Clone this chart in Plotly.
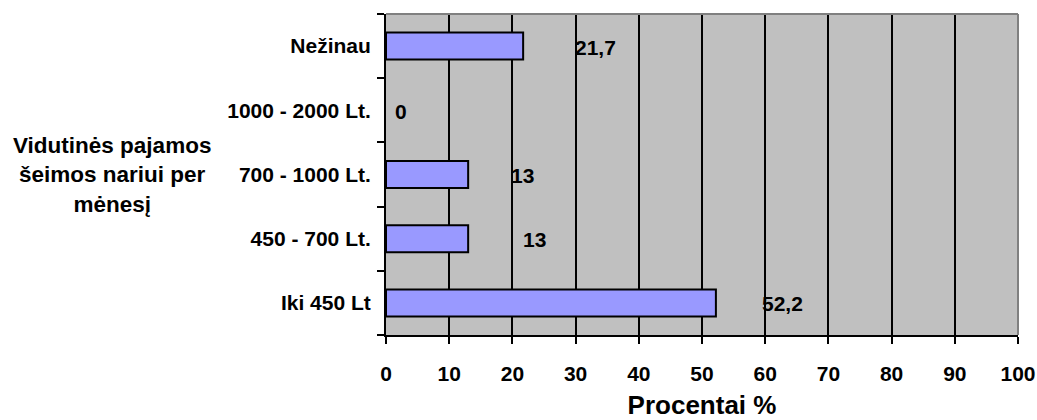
import plotly.graph_objects as go

# ---- data (bottom to top, as drawn) ----
categories = ["Iki 450 Lt", "450 - 700 Lt.", "700 - 1000 Lt.", "1000 - 2000 Lt.", "Nežinau"]
values = [52.2, 13, 13, 0, 21.7]
x_ticks = list(range(0, 101, 10))

y_title = "Vidutinės pajamos<br>šeimos nariui per<br>mėnesį"
x_title = "Procentai %"

# per-label pixel nudges, the original placement is a bit irregular
label_xshift = [44, 53, 41, 7, 50]

FONT = "Arial, Liberation Sans, sans-serif"

fig = go.Figure()

fig.add_trace(go.Bar(
    x=values, y=categories, orientation="h",
    marker=dict(color="#9999FF",
                # no outline on the empty bar, it would leave a stub at 0
                line=dict(color="black", width=[2 if v > 0 else 0 for v in values])),
    showlegend=False, hoverinfo="x+y",
))

# value labels, decimal comma
for cat, val, dx in zip(categories, values, label_xshift):
    fig.add_annotation(
        x=val, y=cat, xref="x", yref="y",
        text=f"{val:g}".replace(".", ","),
        showarrow=False, xanchor="left", yanchor="middle",
        xshift=dx, yshift=-1,
        font=dict(family=FONT, size=21, color="black", weight="bold"),
    )

# horizontal axis-like title on the left
fig.add_annotation(
    x=0, y="700 - 1000 Lt.", xref="paper", yref="y",
    text=y_title, showarrow=False, align="center",
    xanchor="center", yanchor="middle", xshift=-274,
    font=dict(family=FONT, size=22.5, color="black", weight="bold"),
)

# grey top/right frame of the plot area
fig.add_shape(type="line", xref="paper", yref="paper", x0=0, x1=1, y0=1, y1=1,
              line=dict(color="#808080", width=2))
fig.add_shape(type="line", xref="paper", yref="paper", x0=1, x1=1, y0=0, y1=1,
              line=dict(color="#808080", width=2))

fig.update_layout(
    width=1037, height=420,
    margin=dict(l=386, r=19, t=14, b=85),
    paper_bgcolor="white", plot_bgcolor="#C0C0C0",
    bargap=0.58,
    font=dict(family=FONT, size=21, color="black", weight="bold"),
    xaxis=dict(
        range=[0, 100], tickvals=x_ticks,
        showgrid=True, gridcolor="black", gridwidth=2, zeroline=False,
        showline=True, linecolor="black", linewidth=2,
        ticks="outside", ticklen=7, tickwidth=2, tickcolor="black",
        ticklabelstandoff=12,
        tickfont=dict(size=21),
        title=dict(text=x_title, font=dict(size=26), standoff=22),
        automargin=False, fixedrange=True,
    ),
    yaxis=dict(
        categoryorder="array", categoryarray=categories,
        showgrid=False, zeroline=False,
        showline=True, linecolor="black", linewidth=2,
        ticks="outside", tickson="boundaries", ticklen=7, tickwidth=2, tickcolor="black",
        ticklabelstandoff=9,
        tickfont=dict(size=21),
        automargin=False, fixedrange=True,
    ),
)

# the page body has a default 8px margin, drop it so the figure sits at 0,0
fig.write_html("out.html", config={"displayModeBar": False},
               post_script="document.body.style.margin='0';")
